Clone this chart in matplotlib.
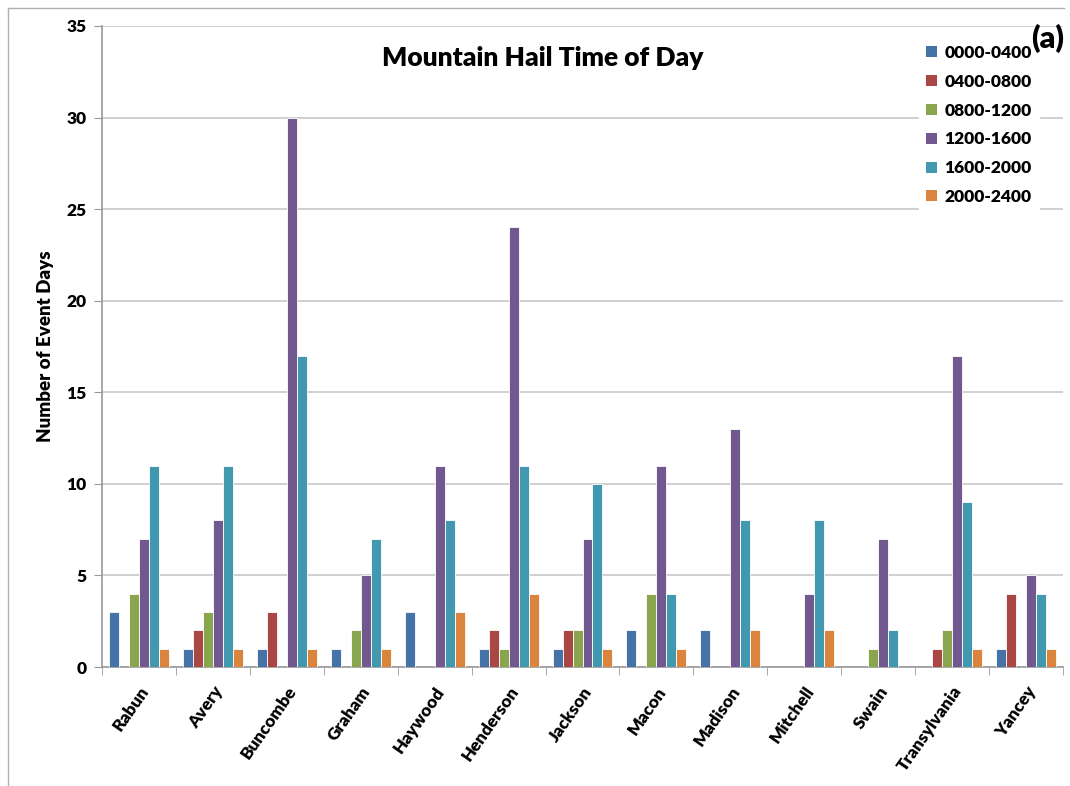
import numpy as np
import matplotlib.pyplot as plt
from matplotlib.patches import Patch
from matplotlib.lines import Line2D

plt.rcParams['font.family'] = ['Lato', 'DejaVu Sans']
plt.rcParams['font.weight'] = 'heavy'

counties = ['Rabun', 'Avery', 'Buncombe', 'Graham', 'Haywood', 'Henderson', 'Jackson',
            'Macon', 'Madison', 'Mitchell', 'Swain', 'Transylvania', 'Yancey']
periods = ['0000-0400', '0400-0800', '0800-1200', '1200-1600', '1600-2000', '2000-2400']

t0000 = [3, 1, 1, 1, 3, 1, 1, 2, 2, 0, 0, 0, 1]
t0400 = [0, 2, 3, 0, 0, 2, 2, 0, 0, 0, 0, 1, 4]
t0800 = [4, 3, 0, 2, 0, 1, 2, 4, 0, 0, 1, 2, 0]
t1200 = [7, 8, 30, 5, 11, 24, 7, 11, 13, 4, 7, 17, 5]
t1600 = [11, 11, 17, 7, 8, 11, 10, 4, 8, 8, 2, 9, 4]
t2000 = [1, 1, 1, 1, 3, 4, 1, 1, 2, 2, 0, 1, 1]
series = [t0000, t0400, t0800, t1200, t1600, t2000]

colors = ['#4572A7', '#AA4643', '#89A54E', '#71588F', '#4198AF', '#DB843D']

fig = plt.figure(figsize=(10.7, 7.86), dpi=100)
ax = fig.add_axes([102 / 1070, 119 / 786, 961 / 1070, 641 / 786])

x = np.arange(len(counties))
w = 0.135
for i, vals in enumerate(series):
    ax.bar(x + (i - 2.5) * w, vals, w, color=colors[i], edgecolor='white',
           linewidth=0.6, zorder=3)

ax.set_xlim(-0.5, len(counties) - 0.5)
ax.set_ylim(0, 35)
ax.set_yticks(np.arange(0, 36, 5))
ax.yaxis.grid(True, color='#c8c8c8', linewidth=1.2, zorder=0)
ax.set_xticks(x)
ax.set_xticklabels(counties, rotation=55, ha='right', rotation_mode='anchor',
                   fontsize=12.5, fontweight='heavy')
ax.set_xticks(np.arange(-0.5, len(counties)), minor=True)
ax.tick_params(axis='x', which='major', length=0, pad=12)
ax.tick_params(axis='x', which='minor', length=6, color='#999999', direction='out')
ax.tick_params(axis='y', length=6, color='#999999', labelsize=12.5, pad=5)
for lab in ax.get_yticklabels():
    lab.set_fontweight('heavy')
for s in ['top', 'right']:
    ax.spines[s].set_visible(False)
for s in ['left', 'bottom']:
    ax.spines[s].set_color('#999999')
    ax.spines[s].set_linewidth(1.2)

ax.set_ylabel('Number of Event Days', fontsize=13.5, fontweight='heavy', labelpad=9)
ax.text(0.459, 0.95, 'Mountain Hail Time of Day', transform=ax.transAxes,
        ha='center', va='center', fontsize=19, fontweight='heavy')

handles = [Patch(facecolor=c, edgecolor='none') for c in colors]
leg = ax.legend(handles, periods, loc='upper right', bbox_to_anchor=(0.984, 0.995),
                frameon=True, fontsize=12.5, handlelength=0.6, handleheight=0.6,
                handletextpad=0.45, labelspacing=0.74, borderpad=0.4)
leg.get_frame().set_edgecolor('white')
leg.get_frame().set_facecolor('white')
leg.get_frame().set_alpha(1)
leg.set_zorder(5)

fig.text(1048 / 1070, 1 - 38 / 786, '(a)', ha='center', va='center',
         fontsize=22, fontweight='heavy', zorder=6)

# outer chart border
fig.add_artist(Line2D([8 / 1070, 8 / 1070], [0, 1 - 8 / 786], color='#b0b0b0', lw=1))
fig.add_artist(Line2D([8 / 1070, 1064 / 1070], [1 - 8 / 786, 1 - 8 / 786],
                      color='#b0b0b0', lw=1))

fig.savefig('out.png', dpi=100)
